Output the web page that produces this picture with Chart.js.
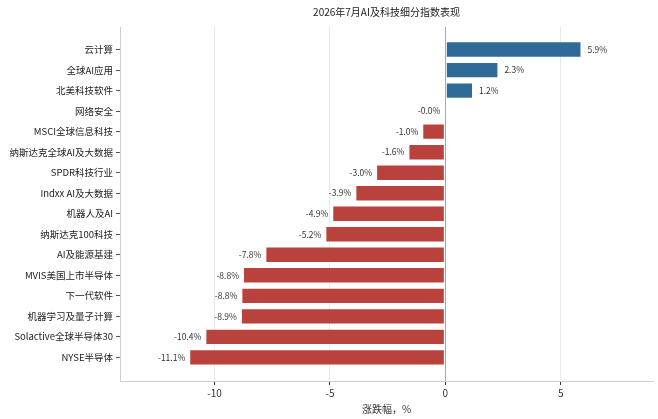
<!DOCTYPE html>
<html>
<head>
<meta charset="utf-8">
<script src="https://cdn.jsdelivr.net/npm/chart.js@4.4.1/dist/chart.umd.min.js"></script>
<style>
  html, body { margin: 0; padding: 0; background: #fff; }
  #wrap { width: 658px; height: 419px; }
</style>
</head>
<body>
<div id="wrap"><canvas id="chart"></canvas></div>
<script>
const titleText = '2026年7月AI及科技细分指数表现';
const axisTitle = '涨跌幅，%';

const categories = [
    '云计算', '全球AI应用', '北美科技软件', '网络安全', 'MSCI全球信息科技',
    '纳斯达克全球AI及大数据', 'SPDR科技行业', 'Indxx AI及大数据', '机器人及AI',
    '纳斯达克100科技', 'AI及能源基建', 'MVIS美国上市半导体', '下一代软件',
    '机器学习及量子计算', 'Solactive全球半导体30', 'NYSE半导体'
];
const changes = [5.9, 2.3, 1.2, -0.04, -1.0, -1.6, -3.0, -3.9, -4.9, -5.2, -7.8, -8.77, -8.84, -8.86, -10.4, -11.1];
const xTicks = [-10, -5, 0, 5];

const FONT = "'Noto Sans CJK SC', 'Noto Sans', sans-serif";
const UP = '#2f6a99';
const DOWN = '#b9433c';

// value labels next to each bar end
const valueLabels = {
    id: 'valueLabels',
    afterDatasetsDraw(chart) {
        const { ctx } = chart;
        const meta = chart.getDatasetMeta(0);
        ctx.save();
        ctx.font = '8.5px ' + FONT;
        ctx.fillStyle = '#333';
        ctx.textBaseline = 'middle';
        meta.data.forEach((bar, i) => {
            const v = changes[i];
            const txt = v.toFixed(1) + '%';
            if (v >= 0) {
                ctx.textAlign = 'left';
                ctx.fillText(txt, bar.x + 6, bar.y);
            } else {
                ctx.textAlign = 'right';
                ctx.fillText(txt, bar.x - 4, bar.y);
            }
        });
        ctx.restore();
    }
};

// title centred over the plot area
const plotTitle = {
    id: 'plotTitle',
    afterDraw(chart) {
        const { ctx, chartArea } = chart;
        ctx.save();
        ctx.font = '10px ' + FONT;
        ctx.fillStyle = '#222';
        ctx.textAlign = 'center';
        ctx.textBaseline = 'middle';
        ctx.fillText(titleText, (chartArea.left + chartArea.right) / 2, 12);
        ctx.restore();
    }
};

new Chart(document.getElementById('chart'), {
    type: 'bar',
    data: {
        datasets: [{
            data: changes.map((v, i) => ({ x: v, y: i })),
            backgroundColor: changes.map(v => v >= 0 ? UP : DOWN),
            borderColor: 'rgba(255,255,255,0.55)',
            borderWidth: 1,
            borderSkipped: false,
            barPercentage: 0.8,
            categoryPercentage: 1.0
        }]
    },
    options: {
        indexAxis: 'y',
        responsive: true,
        maintainAspectRatio: false,
        animation: false,
        devicePixelRatio: 1,
        layout: { padding: { top: 27, right: 5, left: 0, bottom: 0 } },
        plugins: {
            legend: { display: false },
            tooltip: { enabled: false },
            title: { display: false }
        },
        scales: {
            x: {
                type: 'linear',
                min: -14.1,
                max: 9.0,
                z: 1,
                afterBuildTicks: scale => { scale.ticks = xTicks.map(v => ({ value: v })); },
                afterFit: scale => { scale.height = 38; },
                ticks: {
                    color: '#333',
                    font: { family: FONT, size: 10 },
                    padding: 2
                },
                grid: {
                    color: c => c.tick && c.tick.value === 0 ? '#a8a8a8' : 'rgba(205,205,205,0.45)',
                    tickColor: '#333',
                    tickLength: 4
                },
                border: { color: '#cfcfcf', width: 1 },
                title: {
                    display: true,
                    text: axisTitle,
                    color: '#333',
                    font: { family: FONT, size: 10 },
                    padding: { top: 0, bottom: 4 }
                }
            },
            y: {
                type: 'linear',
                reverse: true,
                offset: false,
                min: -1.1,
                max: 16.15,
                afterBuildTicks: scale => { scale.ticks = categories.map((_, i) => ({ value: i })); },
                afterFit: scale => { scale.width = 120; },
                ticks: {
                    color: '#222',
                    font: { family: FONT, size: 9.5 },
                    padding: 3,
                    callback: v => categories[v]
                },
                grid: {
                    offset: false,
                    drawOnChartArea: false,
                    tickColor: '#555',
                    tickLength: 4
                },
                border: { color: '#cfcfcf', width: 1 }
            }
        }
    },
    plugins: [valueLabels, plotTitle]
});
</script>
</body>
</html>
